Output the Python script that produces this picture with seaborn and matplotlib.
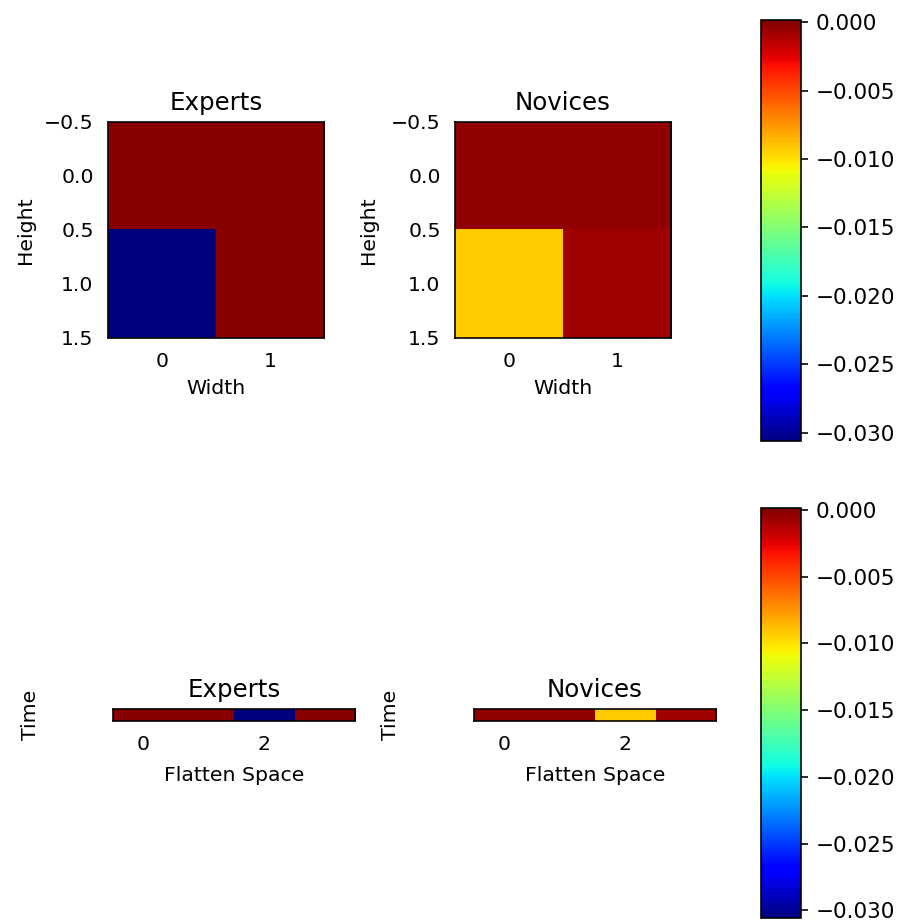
import numpy as np
import matplotlib
matplotlib.use("Agg")
import matplotlib.pyplot as plt
import seaborn as sns
from matplotlib.colors import Normalize

sns.set_style("white")
plt.rcParams['font.family'] = ['DejaVu Sans']
for k in ("text.color", "axes.labelcolor", "xtick.color", "ytick.color"):
    plt.rcParams[k] = "black"

groups = ["Experts", "Novices"]
experts_grid = [[-0.00015, -0.00015],
                [-0.0306, -0.00015]]
novices_grid = [[-0.00039, -0.00039],
                [-0.00926, -0.0008]]
vmin, vmax = -0.0306, 0.00015
cbar_ticks = [0.0, -0.005, -0.010, -0.015, -0.020, -0.025, -0.030]

DPI = 147
fig = plt.figure(figsize=(902 / DPI, 924 / DPI), dpi=DPI)
norm = Normalize(vmin=vmin, vmax=vmax)
cmap = "jet"

tick_fs = 10
label_fs = 10
title_fs = 12
cbar_fs = 10.5

grids = [np.array(experts_grid), np.array(novices_grid)]
top_lefts = [0.1197, 0.5044]
bot_lefts = [0.1253, 0.5255]
height_lab_x = [-0.340, -0.356]
time_lab_x = [-0.302, -0.306]

def style_axes(a):
    a.tick_params(labelsize=tick_fs, length=3.5, width=0.8, pad=3.5, color="black")
    for s in a.spines.values():
        s.set_visible(True); s.set_color("black"); s.set_linewidth(0.8)

for i, (name, g) in enumerate(zip(groups, grids)):
    ax = fig.add_axes([top_lefts[i], 0.6342, 0.2395, 0.2338])
    im = ax.imshow(g, cmap=cmap, norm=norm)
    ax.set_title(name, fontsize=title_fs)
    ax.set_xlabel("Width", fontsize=label_fs)
    ax.set_ylabel("Height", fontsize=label_fs)
    ax.yaxis.set_label_coords(height_lab_x[i], 0.5)
    ax.set_yticks([-0.5, 0.0, 0.5, 1.0, 1.5])
    ax.set_xticks([0, 1])
    style_axes(ax)

    flat = g.reshape(1, -1)
    bx = fig.add_axes([bot_lefts[i], 0.2197, 0.2683, 0.013])
    bx.imshow(flat, cmap=cmap, norm=norm, aspect="auto")
    bx.set_title(name, fontsize=title_fs)
    bx.set_xlabel("Flatten Space", fontsize=label_fs, labelpad=5.5)
    bx.set_xticks([0, 2])
    bx.set_yticks([-0.5, 0.0, 0.5])
    bx.set_yticklabels([])
    bx.set_ylabel("Time", fontsize=label_fs)
    bx.yaxis.set_label_coords(time_lab_x[i], 0.5)
    style_axes(bx)

cax1 = fig.add_axes([0.8437, 0.5227, 0.0443, 0.4556])
cb1 = fig.colorbar(im, cax=cax1, ticks=cbar_ticks)
cax2 = fig.add_axes([0.8437, 0.0060, 0.0443, 0.4442])
cb2 = fig.colorbar(im, cax=cax2, ticks=cbar_ticks)
for cb in (cb1, cb2):
    cb.ax.tick_params(labelsize=cbar_fs, length=3.5, width=0.8, pad=3.5, color="black")
    cb.outline.set_edgecolor("black")
    cb.outline.set_linewidth(0.8)

fig.savefig("out.png", dpi=DPI)
